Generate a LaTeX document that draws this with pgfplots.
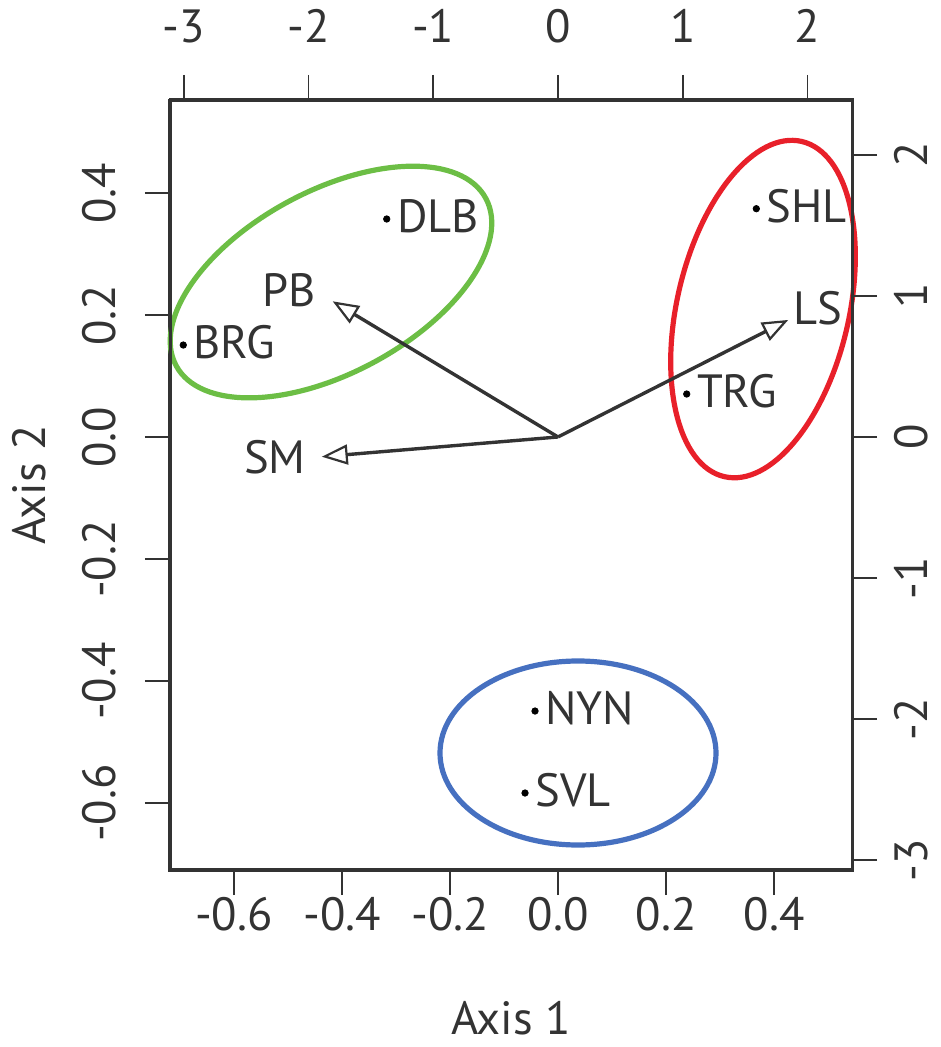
\documentclass[border=0pt]{standalone}
\usepackage{pgfplots}
\pgfplotsset{compat=1.18}
\usepackage{fontspec}
\setmainfont{PT Sans}
\usetikzlibrary{arrows.meta,shapes.geometric}
\definecolor{axcol}{HTML}{333333}
\definecolor{txtcol}{HTML}{333333}
\definecolor{cgreen}{HTML}{6CBE45}
\definecolor{cred}{HTML}{E8202A}
\definecolor{cblue}{HTML}{4670C0}
\newcommand{\bigfont}{\fontsize{23.3}{28}\selectfont}

\pgfplotstableread{
x y label
-0.3172 0.3574 DLB
-0.6939 0.1508 BRG
0.3672 0.3743 SHL
0.2383 0.0705 TRG
-0.0426 -0.4492 NYN
-0.0611 -0.5836 SVL
}\sites

\pgfplotstableread{
x y label
-2.155 1.043 PB
2.083 0.915 LS
-2.268 -0.145 SM
}\varlabels

\begin{document}
\begin{tikzpicture}
\begin{axis}[
  name=main,
  scale only axis, width=341pt, height=385pt,
  xmin=-0.7185, xmax=0.5444, ymin=-0.7098, ymax=0.5525,
  clip=false,
  axis line style={line width=1.5pt, color=axcol},
  tick align=outside,
  major tick length=12.5pt,
  every tick/.style={line width=0.9pt, color=axcol},
  xtick={-0.6,-0.4,-0.2,0,0.2,0.4},
  xticklabels={-0.6,-0.4,-0.2,0.0,0.2,0.4},
  ytick={-0.6,-0.4,-0.2,0,0.2,0.4},
  yticklabels={-0.6,-0.4,-0.2,0.0,0.2,0.4},
  xtick pos=left, ytick pos=left,
  xticklabel pos=left, yticklabel pos=left,
  xticklabel style={anchor=north, inner sep=0pt, font=\bigfont, text=txtcol},
  yticklabel style={rotate=90, anchor=south, inner sep=0pt, font=\bigfont, text=txtcol},
  xticklabel shift=1pt,
  yticklabel shift=14.5pt,
]
\node[draw=cgreen, line width=2.6pt, ellipse, inner sep=0pt, minimum width=176pt, minimum height=91pt, rotate=28.4] at (axis cs:-0.4204,0.2541) {};
\node[draw=cred, line width=2.6pt, ellipse, inner sep=0pt, minimum width=172pt, minimum height=86pt, rotate=77] at (axis cs:0.3796,0.2098) {};
\node[draw=cblue, line width=2.6pt, ellipse, inner sep=0pt, minimum width=138pt, minimum height=92pt] at (axis cs:0.0370,-0.518) {};
\addplot[only marks, mark=*, mark size=1.6pt, color=black,
  nodes near coords, point meta=explicit symbolic,
  nodes near coords style={anchor=west, inner sep=0pt, xshift=5pt, yshift=1.5pt, font=\bigfont, text=txtcol}]
  table[x=x, y=y, meta=label] {\sites};
\end{axis}
\begin{axis}[
  at={(main.south west)}, anchor=south west,
  scale only axis, width=341pt, height=385pt,
  xmin=-3.109, xmax=2.356, ymin=-3.071, ymax=2.390,
  clip=false,
  axis line style={line width=1.5pt, color=axcol},
  tick align=outside,
  major tick length=12.5pt,
  every tick/.style={line width=0.9pt, color=axcol},
  xtick={-3,-2,-1,0,1,2},
  xticklabels={-3,-2,-1,0,1,2},
  ytick={-3,-2,-1,0,1,2},
  yticklabels={-3,-2,-1,0,1,2},
  xtick pos=right, ytick pos=right,
  xticklabel pos=right, yticklabel pos=right,
  xticklabel style={anchor=south, inner sep=0pt, font=\bigfont, text=txtcol},
  yticklabel style={rotate=90, anchor=north, inner sep=0pt, font=\bigfont, text=txtcol},
  xticklabel shift=16pt,
  yticklabel shift=8.5pt,
]
\addplot[line width=1.7pt, color=axcol, -{Triangle[open, length=13pt, width=10pt, line width=1.1pt]}] coordinates {(0,0) (-1.805,0.962)};
\addplot[line width=1.7pt, color=axcol, -{Triangle[open, length=13pt, width=10pt, line width=1.1pt]}] coordinates {(0,0) (1.845,0.830)};
\addplot[line width=1.7pt, color=axcol, -{Triangle[open, length=13pt, width=10pt, line width=1.1pt]}] coordinates {(0,0) (-1.893,-0.140)};
\addplot[only marks, mark=none,
  nodes near coords, point meta=explicit symbolic,
  nodes near coords style={anchor=center, inner sep=0pt, font=\bigfont, text=txtcol}]
  table[x=x, y=y, meta=label] {\varlabels};
\end{axis}
\node[font=\bigfont, text=txtcol] at ([yshift=-74pt]main.south) {Axis 1};
\node[font=\bigfont, text=txtcol, rotate=90] at ([xshift=-70.5pt]main.west) {Axis 2};
\pgfresetboundingbox
\path[use as bounding box] ([shift={(-85pt,-88.5pt)}]main.south west) rectangle ([shift={(44pt,50pt)}]main.north east);
\end{tikzpicture}
\end{document}
